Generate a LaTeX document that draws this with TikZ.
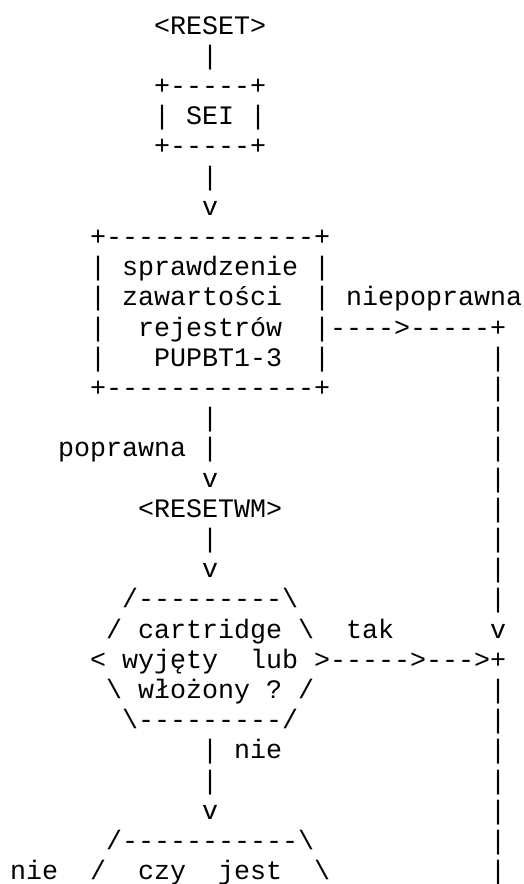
\documentclass[tikz,border=0pt]{standalone}
\usepackage{fontspec}
\setmonofont{Liberation Mono}
\begin{document}
\begin{tikzpicture}[
  txt/.style={inner sep=0pt, outer sep=0pt, anchor=base west, text=black,
    font=\ttfamily\fontsize{26.67pt}{30.2pt}\selectfont}
]
% page frame
\fill[white] (0pt,0pt) rectangle (524pt,-884pt);
\useasboundingbox (0pt,0pt) rectangle (524pt,-884pt);
% character grid: one unit = one column / one text row
\begin{scope}[shift={(10pt,-34pt)}, x=16pt, y=-30.2pt]
  % start and SEI
  \node[txt] (reset) at (9,0) {<RESET>};
  \node[txt] (v1) at (12,1) {|};
  \node[txt] (seiT) at (9,2) {+-----+};
  \node[txt] (sei) at (9,3) {|~SEI~|};
  \node[txt] (seiB) at (9,4) {+-----+};
  \node[txt] (v5) at (12,5) {|};
  \node[txt] (a6) at (12,6) {v};
  % register check box
  \node[txt] (regT) at (5,7) {+-------------+};
  \node[txt] (reg1) at (5,8) {|~sprawdzenie~|};
  \node[txt] (reg2) at (5,9) {|~zawartości~~|};
  \node[txt] (lbad) at (21,9) {niepoprawna};
  \node[txt] (reg3) at (5,10) {|~~rejestrów~~|};
  \node[txt] (bad) at (20,10) {---->-----+};
  \node[txt] (reg4) at (5,11) {|~~~PUPBT1-3~~|};
  \node[txt] (regB) at (5,12) {+-------------+};
  % correct branch
  \node[txt] (v13) at (12,13) {|};
  \node[txt] (lgood) at (3,14) {poprawna};
  \node[txt] (v14) at (12,14) {|};
  \node[txt] (a15) at (12,15) {v};
  \node[txt] (resetwm) at (8,16) {<RESETWM>};
  \node[txt] (v17) at (12,17) {|};
  \node[txt] (a18) at (12,18) {v};
  % cartridge decision
  \node[txt] (decT) at (7,19) {/---------\textbackslash};
  \node[txt] (dec1) at (6,20) {/~cartridge~\textbackslash};
  \node[txt] (lyes) at (21,20) {tak};
  \node[txt] (a20) at (30,20) {v};
  \node[txt] (dec2) at (5,21) {<~wyjęty~~lub~>};
  \node[txt] (yes) at (20,21) {----->--->+};
  \node[txt] (dec3) at (6,22) {\textbackslash~włożony~?~/};
  \node[txt] (decB) at (7,23) {\textbackslash---------/};
  \node[txt] (v24) at (12,24) {|};
  \node[txt] (lno) at (14,24) {nie};
  \node[txt] (v25) at (12,25) {|};
  \node[txt] (a26) at (12,26) {v};
  % next decision
  \node[txt] (dec4T) at (6,27) {/-----------\textbackslash};
  \node[txt] (lno2) at (0,28) {nie};
  \node[txt] (dec4) at (5,28) {/~~czy~~jest~~\textbackslash};
  % right-hand return line
  \foreach \r in {11,...,19,22,23,...,28}
    \node[txt] (rl\r) at (30,\r) {|};
\end{scope}
\end{tikzpicture}
\end{document}
